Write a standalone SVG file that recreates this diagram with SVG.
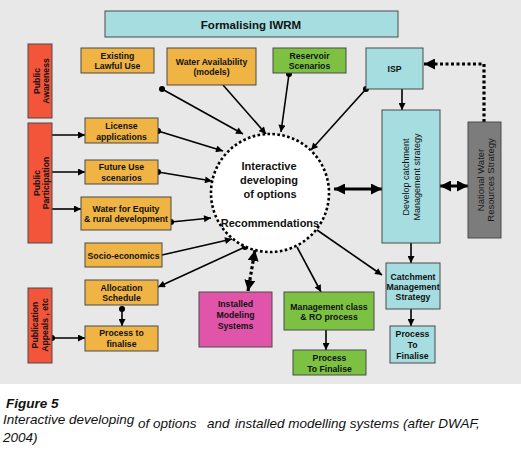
<svg xmlns="http://www.w3.org/2000/svg" width="521" height="460" viewBox="0 0 521 460">
<defs>
<style>
.bx{stroke:#4a4a4a;stroke-width:1}
.or{fill:#efb443}
.rd{fill:#f2553a}
.gr{fill:#7cc142}
.cy{fill:#a6dde0}
.mg{fill:#e055aa}
.gy{fill:#7c7c7c}
.t{font-family:"Liberation Sans",Arial,sans-serif;font-weight:bold;font-size:8.7px;fill:#111;text-anchor:middle}
.tr{font-family:"Liberation Sans",Arial,sans-serif;font-size:9px;fill:#111;text-anchor:middle}
.c{font-family:"Liberation Sans",Arial,sans-serif;font-weight:bold;font-size:11px;fill:#111;text-anchor:middle}
.ln{stroke:#000;stroke-width:1.6;fill:none}
.thk{stroke:#000;stroke-width:3;fill:none}
.dt{stroke:#000;stroke-width:3.2;fill:none;stroke-dasharray:3,2.5}
.cap{font-family:"Liberation Sans",Arial,sans-serif;font-style:italic;font-size:13.5px;fill:#111}
</style>
<marker id="ah" viewBox="0 0 10 10" refX="10" refY="5" markerWidth="8" markerHeight="7" markerUnits="userSpaceOnUse" orient="auto-start-reverse"><path d="M0,0 L10,5 L0,10 z" fill="#000"/></marker>
<marker id="ahb" viewBox="0 0 10 10" refX="10" refY="5" markerWidth="11" markerHeight="11" markerUnits="userSpaceOnUse" orient="auto-start-reverse"><path d="M0,0 L10,5 L0,10 z" fill="#000"/></marker>
<marker id="dot" viewBox="0 0 10 10" refX="5" refY="5" markerWidth="6" markerHeight="6" markerUnits="userSpaceOnUse"><circle cx="5" cy="5" r="5" fill="#000"/></marker>
</defs>
<rect x="0" y="0" width="521" height="460" fill="#ffffff"/>
<rect x="0" y="0" width="521" height="384" fill="#e8e8e8"/>

<g id="connectors">
<line class="ln" x1="162" y1="89" x2="243" y2="134" marker-start="url(#dot)" marker-end="url(#ah)"/>
<line class="ln" x1="223" y1="85" x2="266" y2="134" marker-end="url(#ah)"/>
<line class="ln" x1="289" y1="74" x2="281" y2="132" marker-start="url(#dot)" marker-end="url(#ah)"/>
<line class="ln" x1="366" y1="89" x2="311" y2="150" marker-start="url(#dot)" marker-end="url(#ah)"/>
<line class="ln" x1="158" y1="131" x2="223" y2="151" marker-start="url(#dot)" marker-end="url(#ah)"/>
<line class="ln" x1="158" y1="172" x2="212" y2="181" marker-start="url(#dot)" marker-end="url(#ah)"/>
<line class="ln" x1="171" y1="222" x2="211" y2="218" marker-start="url(#dot)" marker-end="url(#ah)"/>
<line class="ln" x1="162" y1="255" x2="232" y2="239" marker-end="url(#ah)"/>
<line class="ln" x1="245" y1="247" x2="158" y2="287" marker-start="url(#dot)" marker-end="url(#ah)"/>
<line class="dt" x1="255" y1="250" x2="248" y2="291" marker-start="url(#ahb)" marker-end="url(#ahb)"/>
<line class="ln" x1="297" y1="247" x2="321" y2="292" marker-end="url(#ah)"/>
<line class="ln" x1="317" y1="230" x2="382" y2="275" marker-end="url(#ah)"/>
<line class="thk" x1="334" y1="189" x2="382" y2="189" marker-start="url(#ahb)" marker-end="url(#ahb)"/>
<line class="thk" x1="440" y1="186" x2="468" y2="186" marker-start="url(#ahb)" marker-end="url(#ahb)"/>
<line class="ln" x1="402" y1="89" x2="402" y2="110" marker-end="url(#ah)"/>
<line class="ln" x1="411" y1="243" x2="411" y2="263" marker-end="url(#ah)"/>
<line class="ln" x1="411" y1="309" x2="411" y2="326" marker-end="url(#ah)"/>
<line class="ln" x1="326" y1="330" x2="326" y2="350" marker-end="url(#ah)"/>
<polyline class="dt" points="484,122 484,64 424,64" marker-end="url(#ahb)"/>
<line class="ln" x1="52" y1="135" x2="85" y2="135" marker-end="url(#ah)"/>
<line class="ln" x1="52" y1="172" x2="85" y2="172" marker-end="url(#ah)"/>
<line class="ln" x1="52" y1="209" x2="81" y2="209" marker-end="url(#ah)"/>
<line class="ln" x1="52" y1="338" x2="85" y2="338" marker-start="url(#dot)" marker-end="url(#ah)"/>
<line class="ln" x1="122" y1="309" x2="122" y2="326" marker-start="url(#dot)" marker-end="url(#ah)"/>
</g>

<g id="formalising"><rect class="bx cy" x="105" y="11" width="293" height="26"/><text class="t" style="font-size:11.5px" x="251" y="29">Formalising  IWRM</text></g>

<g id="public-awareness"><rect class="bx rd" x="28" y="44" width="24" height="74"/><g transform="translate(40,81) rotate(-90)"><text class="t" x="0" y="0">Public</text><text class="t" x="0" y="9">Awareness</text></g></g>
<g id="public-participation"><rect class="bx rd" x="28" y="123" width="24" height="120"/><g transform="translate(40,183) rotate(-90)"><text class="t" x="0" y="0">Public</text><text class="t" x="0" y="9">Participation</text></g></g>
<g id="publication"><rect class="bx rd" x="28" y="288" width="24" height="75"/><g transform="translate(40,325) rotate(-90)"><text class="t" x="0" y="-2">Publication</text><text class="t" x="0" y="8">Appeals , etc</text></g></g>

<g id="existing"><rect class="bx or" x="81" y="48" width="73" height="25"/><text class="t" x="117.5" y="59">Existing</text><text class="t" x="117.5" y="69">Lawful Use</text></g>
<g id="water-availability"><rect class="bx or" x="167" y="48" width="89" height="37"/><text class="t" x="211.5" y="65">Water Availability</text><text class="t" x="211.5" y="75">(models)</text></g>
<g id="reservoir"><rect class="bx gr" x="273" y="48" width="73" height="25"/><text class="t" x="309.5" y="59">Reservoir</text><text class="t" x="309.5" y="69">Scenarios</text></g>
<g id="isp"><rect class="bx cy" x="366" y="48" width="57" height="41"/><text class="t" x="394.5" y="72">ISP</text></g>

<g id="license"><rect class="bx or" x="85" y="118" width="73" height="25"/><text class="t" x="121.5" y="129">License</text><text class="t" x="121.5" y="140">applications</text></g>
<g id="future"><rect class="bx or" x="85" y="160" width="73" height="24"/><text class="t" x="121.5" y="170">Future Use</text><text class="t" x="121.5" y="181">scenarios</text></g>
<g id="equity"><rect class="bx or" x="81" y="197" width="90" height="33"/><text class="t" x="126" y="212">Water for Equity</text><text class="t" x="126" y="222">&amp; rural development</text></g>
<g id="socio"><rect class="bx or" x="85" y="243" width="77" height="24"/><text class="t" x="123.5" y="259">Socio-economics</text></g>
<g id="allocation"><rect class="bx or" x="85" y="280" width="73" height="25"/><text class="t" x="121.5" y="291">Allocation</text><text class="t" x="121.5" y="301">Schedule</text></g>
<g id="process-left"><rect class="bx or" x="85" y="326" width="73" height="25"/><text class="t" x="121.5" y="336">Process to</text><text class="t" x="121.5" y="347">finalise</text></g>

<g id="installed"><rect class="bx mg" x="199" y="292" width="73" height="55"/><text class="t" x="235.5" y="307">Installed</text><text class="t" x="235.5" y="318">Modeling</text><text class="t" x="235.5" y="329">Systems</text></g>
<g id="management-class"><rect class="bx gr" x="284" y="292" width="90" height="38"/><text class="t" x="329" y="310">Management class</text><text class="t" x="329" y="320">&amp; RO process</text></g>
<g id="process-green"><rect class="bx gr" x="293" y="350" width="73" height="25"/><text class="t" x="329.5" y="361">Process</text><text class="t" x="329.5" y="372">To Finalise</text></g>

<g id="develop"><rect class="bx cy" x="382" y="110" width="58" height="133"/><g transform="translate(411,177) rotate(-90)"><text class="tr" x="0" y="-2">Develop catchment</text><text class="tr" x="0" y="9">Management strategy</text></g></g>
<g id="nwrs"><rect class="bx gy" x="468" y="122" width="33" height="116"/><g transform="translate(484.5,180) rotate(-90)"><text class="tr" style="font-size:9.5px;fill:#1a1a1a" x="0" y="-1">National Water</text><text class="tr" style="font-size:9.5px;fill:#1a1a1a" x="0" y="9">Resources Strategy</text></g></g>
<g id="cms"><rect class="bx cy" x="386" y="263" width="54" height="46"/><text class="t" x="413" y="280">Catchment</text><text class="t" x="413" y="290">Management</text><text class="t" x="413" y="300">Strategy</text></g>
<g id="process-cyan"><rect class="bx cy" x="390" y="326" width="45" height="37"/><text class="t" x="412.5" y="337">Process</text><text class="t" x="412.5" y="348">To</text><text class="t" x="412.5" y="359">Finalise</text></g>

<g id="center"><circle cx="270" cy="193" r="59" fill="#fff" stroke="#000" stroke-width="2.6" stroke-dasharray="2.6,2.4"/><text class="c" x="269" y="170">Interactive</text><text class="c" x="269" y="184">developing</text><text class="c" x="270" y="198">of options</text><text class="c" x="270" y="227">Recommendations</text></g>

<g id="caption">
<text class="cap" style="font-weight:bold" x="6" y="408">Figure  5</text>
<text class="cap" x="3" y="424">Interactive developing</text>
<text class="cap" x="138" y="428">of options</text>
<text class="cap" x="207" y="428">and</text>
<text class="cap" x="235" y="428">installed modelling systems (after DWAF,</text>
<text class="cap" x="3" y="442">2004)</text>
</g>
</svg>
